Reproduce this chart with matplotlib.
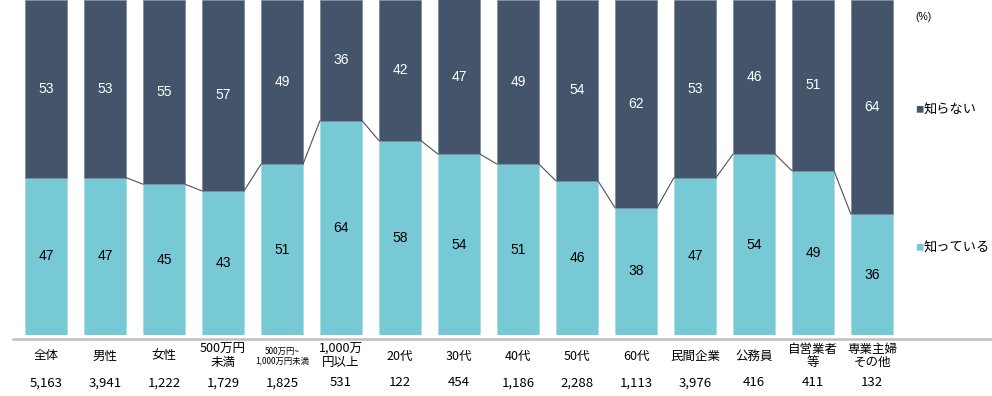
import matplotlib
matplotlib.use("Agg")
import matplotlib.pyplot as plt
from matplotlib.lines import Line2D

plt.rcParams['font.family'] = ['Noto Sans CJK JP', 'DejaVu Sans']

categories = ["全体", "男性", "女性", "500万円\n未満", "500万円~\n1,000万円未満", "1,000万\n円以上",
              "20代", "30代", "40代", "50代", "60代", "民間企業", "公務員", "自営業者\n等", "専業主婦\nその他"]
counts = ["5,163", "3,941", "1,222", "1,729", "1,825", "531", "122", "454", "1,186", "2,288",
          "1,113", "3,976", "416", "411", "132"]
know = [47, 47, 45, 43, 51, 64, 58, 54, 51, 46, 38, 47, 54, 49, 36]
dont_know = [53, 53, 55, 57, 49, 36, 42, 47, 49, 54, 62, 53, 46, 51, 64]

c_know = "#78C9D6"
c_dont = "#44546A"

W, H = 992, 396
fig = plt.figure(figsize=(W / 100, H / 100), dpi=100)

px_unit = 59.0
x0_px = 46.0
ax_left_px = 13.0
ax_bottom_px = 335.0
ax = fig.add_axes([ax_left_px / W, (H - ax_bottom_px) / H, (W - ax_left_px) / W, ax_bottom_px / H])
ax.set_xlim(-(x0_px - ax_left_px) / px_unit, (W - x0_px) / px_unit)
ax.set_ylim(0, 100)
ax.axis('off')

bw = 42 / px_unit
xs = list(range(len(categories)))
ax.bar(xs, know, width=bw, color=c_know, edgecolor="#A8DDE6", linewidth=0.6)
ax.bar(xs, dont_know, bottom=know, width=bw, color=c_dont, edgecolor="#7F8A9A", linewidth=0.6)

# series lines (a flat line between equal values is not visible in the reference)
for i in range(len(xs) - 1):
    if know[i] == know[i + 1]:
        continue
    ax.plot([xs[i] + bw / 2, xs[i + 1] - bw / 2], [know[i], know[i + 1]],
            color="#505050", lw=0.8, solid_capstyle='butt')

for i in xs:
    ax.text(i, know[i] / 2, str(know[i]), ha='center', va='center', fontsize=10,
            family=['Liberation Sans'], color='black')
    top = min(100, know[i] + dont_know[i])
    ax.text(i, (know[i] + top) / 2, str(dont_know[i]), ha='center', va='center', fontsize=10,
            family=['Liberation Sans'], color='white')

# baseline
fig.add_artist(Line2D([13 / W, 1.0], [(H - 339) / H] * 2, color="#BFBFBF", lw=1.8))

def fx(px):
    return px / W

def fy(py):
    return (H - py) / H

for i, (cat, n) in enumerate(zip(categories, counts)):
    cx = fx(x0_px + i * px_unit)
    fs = 6 if i == 4 else 9
    fig.text(cx, fy(356), cat, ha='center', va='center', fontsize=fs, linespacing=1.05)
    fig.text(cx, fy(383), n, ha='center', va='center', fontsize=9.5)

fig.text(fx(915), fy(17), "(%)", ha='left', va='center', fontsize=7.5, family=['Liberation Sans'])
fig.text(fx(915), fy(110), "■", ha='left', va='center', fontsize=6, color=c_dont)
fig.text(fx(924), fy(110), "知らない", ha='left', va='center', fontsize=9.5)
fig.text(fx(915), fy(248), "■", ha='left', va='center', fontsize=6, color=c_know)
fig.text(fx(924), fy(248), "知っている", ha='left', va='center', fontsize=9.5)

fig.savefig("out.png", dpi=100)
